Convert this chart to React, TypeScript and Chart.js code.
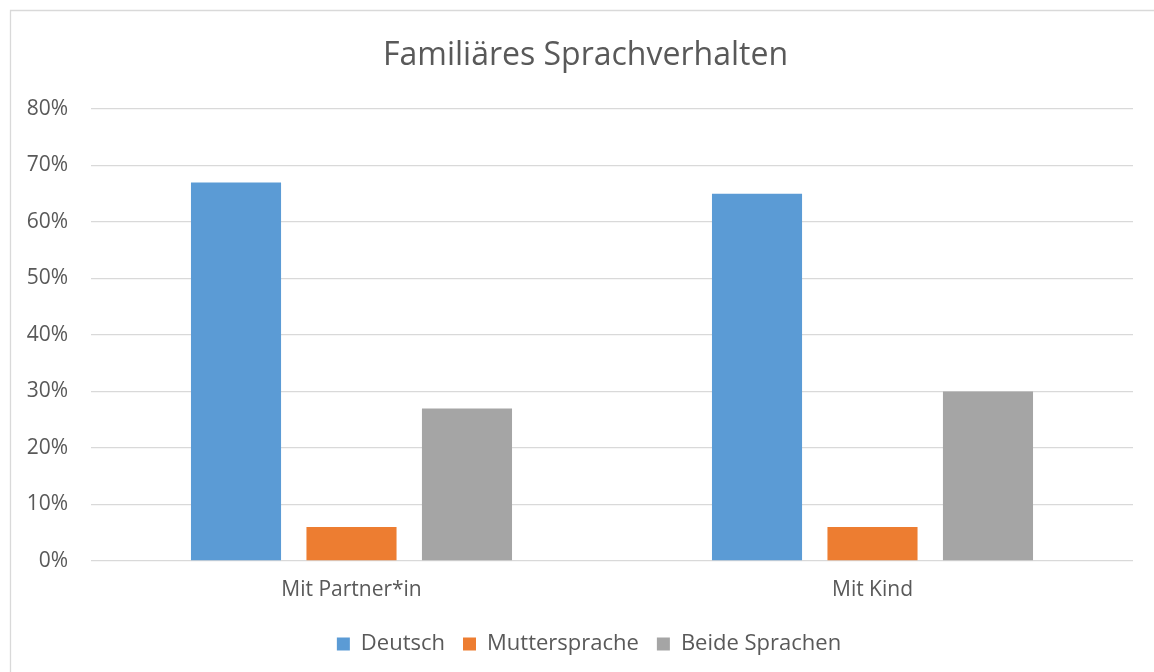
import React, { useEffect, useRef } from "react";
import { Chart, registerables } from "chart.js";

Chart.register(...registerables);

const categories = ["Mit Partner*in", "Mit Kind"];
const deutsch = [67, 65];
const muttersprache = [6, 6];
const beide = [27, 30];
const seriesNames = ["Deutsch", "Muttersprache", "Beide Sprachen"];
const yTicks = [0, 10, 20, 30, 40, 50, 60, 70, 80];
const title = "Familiäres Sprachverhalten";

const FONT = "'Open Sans', Lato, sans-serif";
const TEXT = "#595959";

const borderPlugin = {
  id: "outerBorder",
  beforeDraw(chart: any) {
    const ctx = chart.ctx;
    ctx.save();
    ctx.fillStyle = "#ffffff";
    ctx.fillRect(0, 0, chart.width, chart.height);
    ctx.strokeStyle = "#d9d9d9";
    ctx.lineWidth = 1.3;
    ctx.beginPath();
    ctx.moveTo(10.5, chart.height);
    ctx.lineTo(10.5, 10.5);
    ctx.lineTo(chart.width, 10.5);
    ctx.stroke();
    ctx.restore();
  },
  afterLayout(chart: any) {
    // the outer frame extends past the right edge, so centre title/legend on it
    if (chart.titleBlock) chart.titleBlock.left = 38;
    if (chart.legend) chart.legend.left = 45;
  },
};

export default function App() {
  const ref = useRef<HTMLCanvasElement | null>(null);
  useEffect(() => {
    if (!ref.current) return;
    const chart = new Chart(ref.current, {
      type: "bar",
      data: {
        labels: categories,
        datasets: [
          { label: seriesNames[0], data: deutsch, backgroundColor: "#5B9BD5" },
          { label: seriesNames[1], data: muttersprache, backgroundColor: "#ED7D31" },
          { label: seriesNames[2], data: beide, backgroundColor: "#A5A5A5" },
        ],
      },
      options: {
        responsive: false,
        animation: false,
        maintainAspectRatio: false,
        layout: { padding: { left: 0, right: 21, top: 0, bottom: 7 } },
        datasets: {
          bar: { categoryPercentage: 0.665, barPercentage: 0.78 },
        },
        plugins: {
          title: {
            display: true,
            text: title,
            color: TEXT,
            font: { family: FONT, size: 32, weight: "normal", lineHeight: 1.2 },
            padding: { top: 36.8, bottom: 33.8 },
          },
          legend: {
            position: "bottom",
            labels: {
              color: TEXT,
              font: { family: FONT, size: 22 },
              boxWidth: 13,
              boxHeight: 13,
              padding: 18,
            },
          },
          tooltip: { enabled: false },
        },
        scales: {
          x: {
            grid: { display: false, drawTicks: false },
            border: { display: false },
            ticks: {
              color: TEXT,
              font: { family: FONT, size: 21, lineHeight: 1.2 },
              padding: 16,
            },
            afterFit(scale: any) {
              scale.height = 54;
            },
          },
          y: {
            min: 0,
            max: 80,
            afterBuildTicks(scale: any) {
              scale.ticks = yTicks.map((v) => ({ value: v }));
            },
            afterFit(scale: any) {
              scale.width = 91;
            },
            grid: { color: "#d9d9d9", lineWidth: 1.3, drawTicks: false },
            border: { display: false },
            ticks: {
              color: TEXT,
              font: { family: FONT, size: 21 },
              padding: 23,
              callback: (v: any) => v + "%",
            },
          },
        },
      },
      plugins: [borderPlugin],
    });
    return () => chart.destroy();
  }, []);
  return (
    <div style={{ position: "absolute", left: 0, top: 0, width: 1154, height: 672 }}>
      <canvas ref={ref} width={1154} height={672} style={{ display: "block" }} />
    </div>
  );
}
